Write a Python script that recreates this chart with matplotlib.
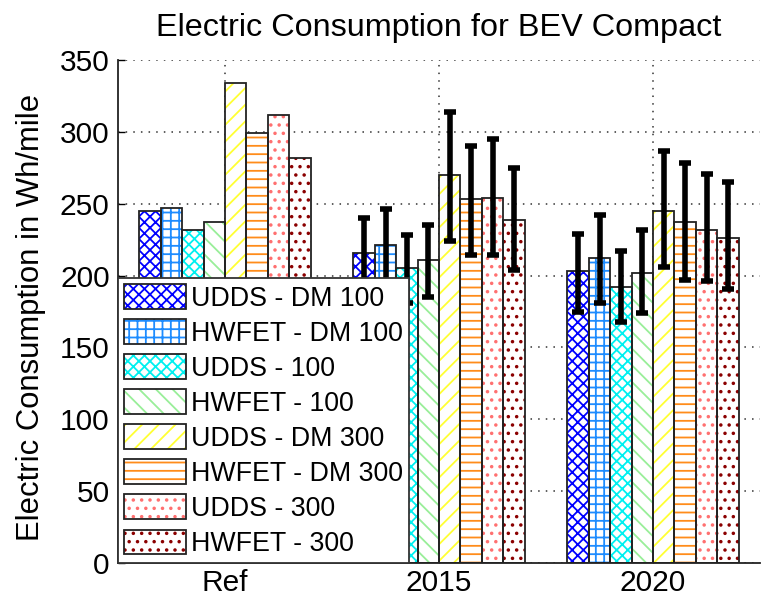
import matplotlib
matplotlib.use("Agg")
import matplotlib.pyplot as plt
import matplotlib.patches as mpatches
from matplotlib.legend_handler import HandlerTuple
import numpy as np

plt.rcParams['font.family'] = ['Liberation Sans', 'DejaVu Sans']
plt.rcParams['hatch.linewidth'] = 1.3

categories = ['Ref', '2015', '2020']
series_labels = ['UDDS - DM 100', 'HWFET - DM 100', 'UDDS - 100', 'HWFET - 100',
                 'UDDS - DM 300', 'HWFET - DM 300', 'UDDS - 300', 'HWFET - 300']

udds_dm100 = [245, 216, 203]
hwfet_dm100 = [247, 221, 212]
udds_100 = [232, 205, 192]
hwfet_100 = [237, 211, 202]
udds_dm300 = [334, 270, 245]
hwfet_dm300 = [299, 253, 237]
udds_300 = [312, 254, 232]
hwfet_300 = [282, 239, 226]
values = [udds_dm100, hwfet_dm100, udds_100, hwfet_100,
          udds_dm300, hwfet_dm300, udds_300, hwfet_300]

# error bar bounds (only for 2015 and 2020)
err_categories = ['2015', '2020']
err_upper_2015 = [240, 246, 228, 235, 314, 290, 295, 275]
err_lower_2015 = [192, 195, 181, 185, 224, 214, 214, 204]
err_upper_2020 = [229, 242, 217, 232, 287, 278, 271, 265]
err_lower_2020 = [175, 181, 168, 174, 206, 197, 196, 191]
err_upper = [err_upper_2015, err_upper_2020]
err_lower = [err_lower_2015, err_lower_2020]

hatch_colors = ['#0000ff', '#1e8cff', '#00f0f0', '#99ee99',
                '#ffff33', '#ff8c1a', '#ff7070', '#8b0000']
hatches = ['xxx', '++', 'xxx', '\\\\', '//', '--', '..', '..']

fig = plt.figure(figsize=(7.65, 5.97), dpi=100)
ax = fig.add_axes([118/765, 34/597, (760-118)/765, (563-60)/597])

x = np.arange(1, len(categories) + 1)
n = len(values)
width = 0.1
handles = []
for i, vals in enumerate(values):
    off = (i - (n - 1) / 2) * width
    hb = ax.bar(x + off, vals, width, color='white', edgecolor=hatch_colors[i],
                linewidth=0, hatch=hatches[i], zorder=2)
    bb = ax.bar(x + off, vals, width, color='none', edgecolor='#222222',
                linewidth=1.3, zorder=3)
    handles.append((hb.patches[0], bb.patches[0]))

for j, cat in enumerate(err_categories):
    ci = categories.index(cat)
    for i in range(n):
        off = (i - (n - 1) / 2) * width
        v = values[i][ci]
        ax.errorbar(x[ci] + off, v,
                    yerr=[[v - err_lower[j][i]], [err_upper[j][i] - v]],
                    fmt='none', ecolor='black', elinewidth=4.0,
                    capsize=4, capthick=4, zorder=4)

ax.set_xlim(0.5, 3.5)
ax.set_ylim(0, 350)
ax.set_xticks(x)
ax.set_xticklabels(categories)
ax.set_yticks(np.arange(0, 351, 50))
ax.tick_params(direction='in', length=5, labelsize=21.5, width=1)
ax.tick_params(axis='y', pad=6)
ax.tick_params(axis='x', pad=4)
ax.spines['top'].set_visible(False)
ax.spines['right'].set_visible(False)
for s in ['left', 'bottom']:
    ax.spines[s].set_linewidth(1.3)
    ax.spines[s].set_color('#222222')
ax.set_axisbelow(True)
ax.grid(True, linestyle=(0, (1, 4)), color='#333333', linewidth=1.1)

ax.set_title('Electric Consumption for BEV Compact', fontsize=23.3, pad=17)
ax.set_ylabel('Electric Consumption in Wh/mile', fontsize=22.3)
ax.yaxis.set_label_coords(-0.112, 0.488)

leg = ax.legend(handles, series_labels, handler_map={tuple: HandlerTuple(ndivide=1)},
                loc='lower left', bbox_to_anchor=(0, 0), borderaxespad=0,
                fontsize=19.3, handlelength=2.3, handleheight=1.05,
                handletextpad=0.22, labelspacing=0.28, borderpad=0.22,
                fancybox=False, framealpha=1, edgecolor='#333333')
leg.get_frame().set_linewidth(1.3)
leg.set_zorder(10)

fig.savefig('out.png', dpi=100)
